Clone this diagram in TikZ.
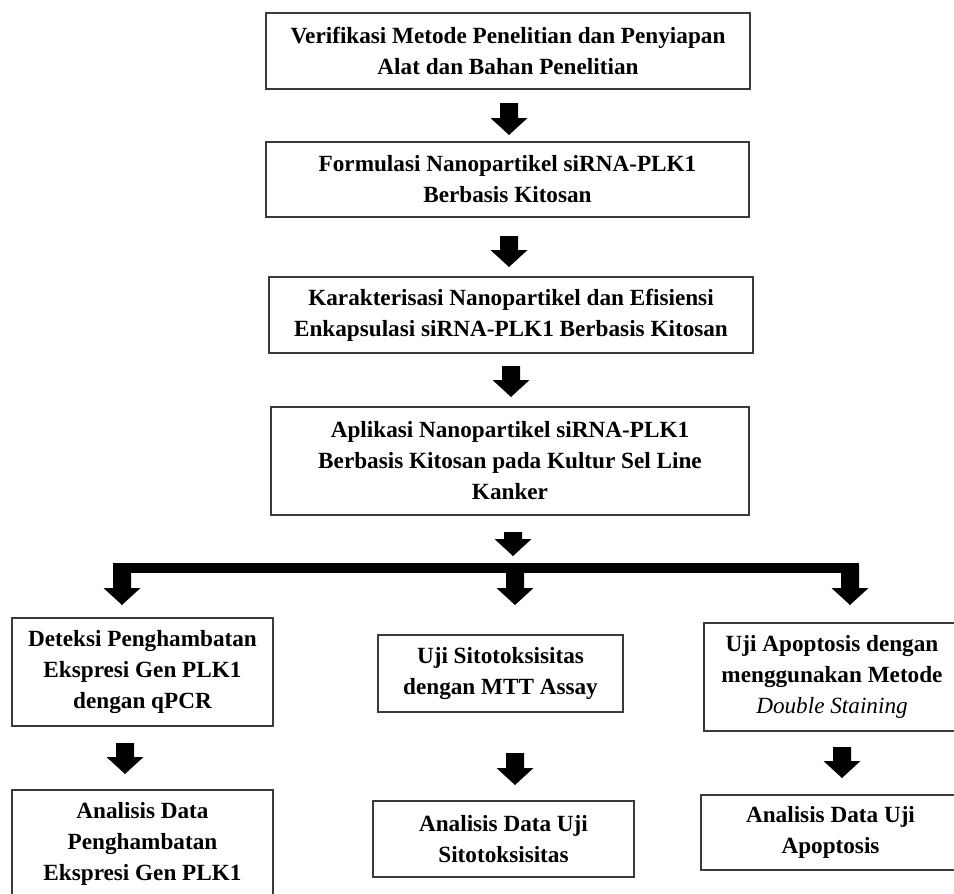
\documentclass[tikz,border=0pt]{standalone}
\usepackage{fontspec}
\setmainfont{Liberation Serif}
\definecolor{boxline}{HTML}{3A3A3A}
\newcommand{\fatarrow}[3]{%
  \fill[black] (#1-9,#2) -- (#1+9,#2) -- (#1+9,#3-17) -- (#1+18.5,#3-17) -- (#1,#3) -- (#1-18.5,#3-17) -- (#1-9,#3-17) -- cycle;}
\begin{document}
\begin{tikzpicture}[x=1pt,y=-1pt,
  box/.style={draw=boxline, line width=1.3pt, fill=white, align=center, inner sep=0pt,
    font=\fontsize{23.2}{31}\selectfont\bfseries}]
\useasboundingbox[fill=white] (0,0) rectangle (954,894);

% main column
\node[box, minimum width=484pt, minimum height=76pt] (b1) at (508,51)
  {Verifikasi Metode Penelitian dan Penyiapan\\Alat dan Bahan Penelitian};
\node[box, minimum width=483pt, minimum height=75pt] (b2) at (507.5,179.5)
  {Formulasi Nanopartikel siRNA-PLK1\\Berbasis Kitosan};
\node[box, minimum width=484pt, minimum height=76pt] (b3) at (511,315)
  {Karakterisasi Nanopartikel dan Efisiensi\\Enkapsulasi siRNA-PLK1 Berbasis Kitosan};
\node[box, minimum width=478pt, minimum height=108pt] (b4) at (510,461)
  {Aplikasi Nanopartikel siRNA-PLK1\\Berbasis Kitosan pada Kultur Sel Line\\Kanker};

\fatarrow{509}{103}{135}
\fatarrow{509}{236}{267}
\fatarrow{511}{366}{397}
\fatarrow{513}{532}{556}

% distribution bar
\fill[black] (113,563) rectangle (859,573);
\fatarrow{122}{565}{605}
\fatarrow{515}{565}{605}
\fatarrow{850}{565}{605}

% second row
\node[box, minimum width=261pt, minimum height=108pt] (l1) at (142.5,672)
  {Deteksi Penghambatan\\Ekspresi Gen PLK1\\dengan qPCR};
\node[box, minimum width=245pt, minimum height=77pt] (m1) at (500.5,673.5)
  {Uji Sitotoksisitas\\dengan MTT Assay};
\node[box, minimum width=256pt, minimum height=108pt] (r1) at (832,677)
  {Uji Apoptosis dengan\\menggunakan Metode\\{\mdseries\itshape Double Staining}};

\fatarrow{125}{743}{774}
\fatarrow{515}{753}{785}
\fatarrow{842}{747}{778}

% third row
\node[box, minimum width=261pt, minimum height=108pt] (l2) at (142.5,844)
  {Analisis Data\\Penghambatan\\Ekspresi Gen PLK1};
\node[box, minimum width=261pt, minimum height=76pt] (m2) at (503.5,839)
  {Analisis Data Uji\\Sitotoksisitas};
\node[box, minimum width=259pt, minimum height=75pt] (r2) at (830.5,832.5)
  {Analisis Data Uji\\Apoptosis};
\end{tikzpicture}
\end{document}
